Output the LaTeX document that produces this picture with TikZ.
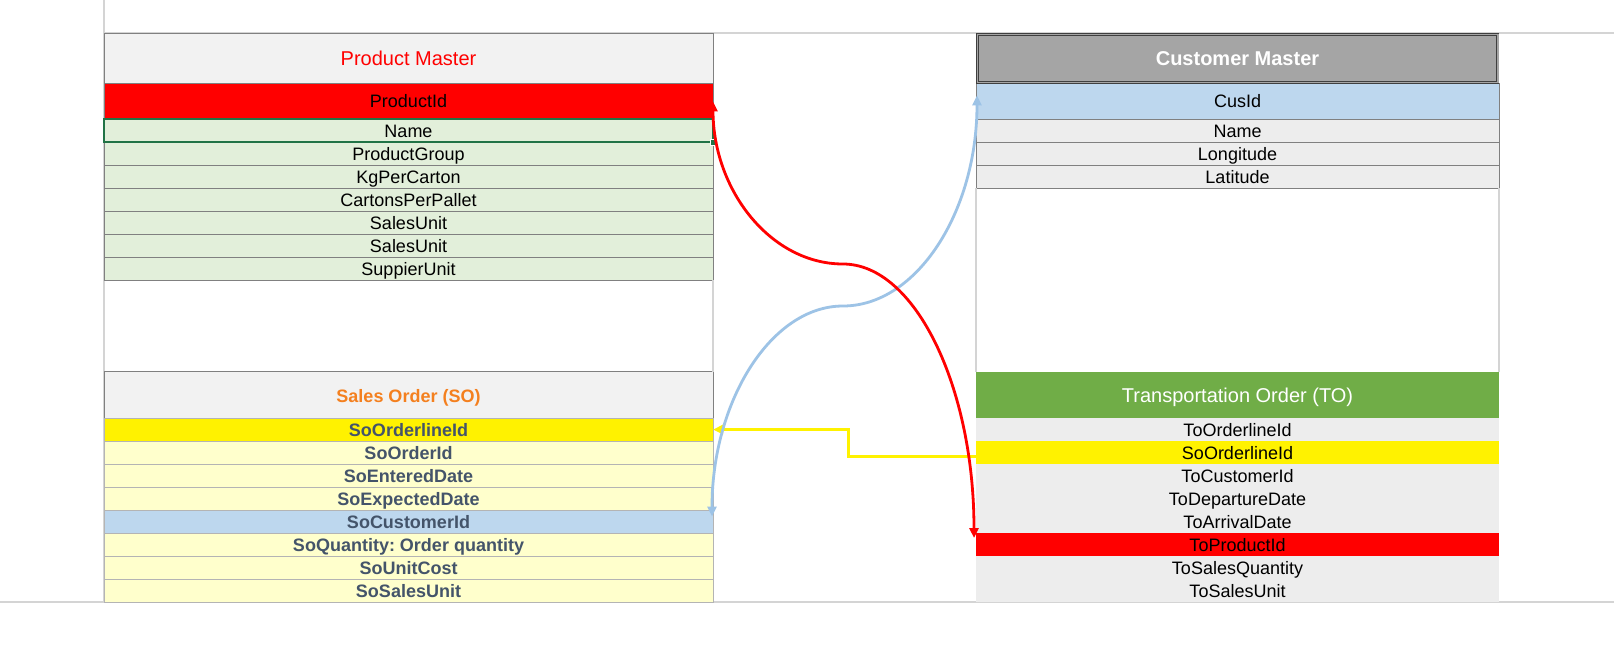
\documentclass[tikz,border=0pt]{standalone}
\usepackage{fontspec}
\setmainfont{Liberation Sans}
\usepackage{tikz}
\usetikzlibrary{shapes.geometric, arrows.meta, positioning}
\definecolor{pmgreen}{HTML}{E2EFDA}
\definecolor{cellgray}{HTML}{F2F2F2}
\definecolor{linegray}{HTML}{808080}
\definecolor{solines}{HTML}{B4B4B4}
\definecolor{gridgray}{HTML}{D4D4D4}
\definecolor{soyellow}{HTML}{FFFFCC}
\definecolor{keyblue}{HTML}{BDD7EE}
\definecolor{sotext}{HTML}{44546A}
\definecolor{soorange}{HTML}{F4801F}
\definecolor{cmgray}{HTML}{A5A5A5}
\definecolor{cmborder}{HTML}{3F3F3F}
\definecolor{togray}{HTML}{EDEDED}
\definecolor{togreen}{HTML}{70AD47}
\definecolor{selgreen}{HTML}{217346}
\definecolor{linkblue}{HTML}{9DC3E6}
\newcommand{\bodyfont}{\fontsize{18}{20}\selectfont}
\newcommand{\headfont}{\fontsize{20}{22}\selectfont}
\tikzstyle{cell} = [rectangle, inner sep=0pt, outer sep=0pt, minimum height=23pt, text centered, text height=15pt, text depth=2pt, font=\bodyfont]
\tikzstyle{pmcell} = [cell, minimum width=609pt, fill=pmgreen, draw=linegray, line width=1pt]
\tikzstyle{socell} = [cell, minimum width=609pt, fill=soyellow, draw=solines, line width=1pt, text=sotext, font=\bodyfont\bfseries]
\tikzstyle{cmcell} = [cell, minimum width=523pt, fill=togray, draw=linegray, line width=1pt]
\tikzstyle{tocell} = [cell, minimum width=523pt, fill=togray]
\tikzstyle{keycell} = [minimum height=36pt]
\tikzstyle{tablehead} = [rectangle, inner sep=0pt, outer sep=0pt, minimum height=50.4pt, text centered, text height=14.5pt, text depth=0pt, font=\headfont]
\tikzstyle{orderhead} = [tablehead, minimum height=46.4pt, text height=16pt]
\tikzstyle{gridline} = [gridgray, line width=1.3pt]
\tikzstyle{fklink} = [line width=2.8pt, {Triangle[length=10pt,width=9pt]}-{Triangle[length=10pt,width=9pt]}]
\tikzstyle{fkelbow} = [line width=3pt, -{Triangle[length=10pt,width=9pt]}]
\begin{document}
\frenchspacing
\begin{tikzpicture}[x=1pt, y=-1pt, node distance=23pt]
	\fill [white] (0,0) rectangle (1614,654);
	\useasboundingbox (0,0) rectangle (1614,654);
	\draw [gridline] (104,0) -- (104,602);
	\draw [gridline] (104,33) -- (1614,33);
	\draw [gridline] (0,602) -- (1614,602);

	\node (hdrProduct) [tablehead, minimum width=609pt, fill=cellgray, draw=linegray, line width=1pt, text=red] at (408.5,58.2) {Product Master};
	\node (rowProductId) [pmcell, keycell, fill=red, below of=hdrProduct, yshift=-20.2pt] {ProductId};
	\node (rowPmName) [pmcell, below of=rowProductId, yshift=-6.5pt] {Name};
	\node (rowProductGroup) [pmcell, below of=rowPmName] {ProductGroup};
	\node (rowKgPerCarton) [pmcell, below of=rowProductGroup] {KgPerCarton};
	\node (rowCartonsPerPallet) [pmcell, below of=rowKgPerCarton] {CartonsPerPallet};
	\node (rowSalesUnitA) [pmcell, below of=rowCartonsPerPallet] {SalesUnit};
	\node (rowSalesUnitB) [pmcell, below of=rowSalesUnitA] {SalesUnit};
	\node (rowSuppierUnit) [pmcell, below of=rowSalesUnitB] {SuppierUnit};

	\node (hdrSales) [orderhead, minimum width=609pt, fill=cellgray, draw=linegray, line width=1pt, text=soorange, font=\bodyfont\bfseries] at (408.5,394.8) {Sales Order (SO)};
	\node (rowSoOrderlineId) [socell, fill=yellow, below of=hdrSales, yshift=-11.7pt] {SoOrderlineId};
	\node (rowSoOrderId) [socell, below of=rowSoOrderlineId] {SoOrderId};
	\node (rowSoEnteredDate) [socell, below of=rowSoOrderId] {SoEnteredDate};
	\node (rowSoExpectedDate) [socell, below of=rowSoEnteredDate] {SoExpectedDate};
	\node (rowSoCustomerId) [socell, fill=keyblue, below of=rowSoExpectedDate] {SoCustomerId};
	\node (rowSoQuantity) [socell, below of=rowSoCustomerId] {SoQuantity: Order quantity};
	\node (rowSoUnitCost) [socell, below of=rowSoQuantity] {SoUnitCost};
	\node (rowSoSalesUnit) [socell, below of=rowSoUnitCost] {SoSalesUnit};

	\node (hdrCustomer) [tablehead, minimum width=523pt, fill=cmgray, text=white, font=\headfont\bfseries] at (1237.5,58.2) {Customer Master};
	\node (rowCusId) [cmcell, keycell, fill=keyblue, below of=hdrCustomer, yshift=-20.2pt] {CusId};
	\node (rowCmName) [cmcell, below of=rowCusId, yshift=-6.5pt] {Name};
	\node (rowLongitude) [cmcell, below of=rowCmName] {Longitude};
	\node (rowLatitude) [cmcell, below of=rowLongitude] {Latitude};
	\draw [cmborder, double=cmgray, double distance=1.4pt, line width=0.9pt] ([xshift=1.2pt, yshift=-1.2pt]hdrCustomer.north west) rectangle ([xshift=-1.2pt, yshift=1.2pt]hdrCustomer.south east);

	\node (hdrTransport) [orderhead, minimum width=523pt, fill=togreen, text=white] at (1237.5,394.8) {Transportation Order (TO)};
	\node (rowToOrderlineId) [tocell, below of=hdrTransport, yshift=-11.7pt] {ToOrderlineId};
	\node (rowToSoOrderlineId) [tocell, fill=yellow, below of=rowToOrderlineId] {SoOrderlineId};
	\node (rowToCustomerId) [tocell, below of=rowToSoOrderlineId] {ToCustomerId};
	\node (rowToDepartureDate) [tocell, below of=rowToCustomerId] {ToDepartureDate};
	\node (rowToArrivalDate) [tocell, below of=rowToDepartureDate] {ToArrivalDate};
	\node (rowToProductId) [tocell, fill=red, below of=rowToArrivalDate] {ToProductId};
	\node (rowToSalesQuantity) [tocell, below of=rowToProductId] {ToSalesQuantity};
	\node (rowToSalesUnit) [tocell, below of=rowToSalesQuantity] {ToSalesUnit};

	\draw [gridline] (rowSuppierUnit.south east) -- (hdrSales.north east);
	\draw [gridline] (rowLatitude.south west) -- (hdrTransport.north west);
	\draw [gridline] (rowLatitude.south east) -- (hdrTransport.north east);

	\draw [selgreen, line width=2pt] (rowPmName.north west) rectangle (rowPmName.south east);
	\node (selHandle) [rectangle, fill=selgreen, draw=white, line width=0.8pt, minimum size=6pt, inner sep=0pt] at (rowPmName.south east) {};

	\coordinate (redBend) at (843,264);
	\coordinate (blueBend) at (843,306);
	\draw [fkelbow, yellow] ([yshift=-3.5pt]rowToSoOrderlineId.west) -- ++(-128,0) |- (rowSoOrderlineId.east);
	\draw [fklink, linkblue] ([xshift=-1pt, yshift=5pt]rowSoCustomerId.east) .. controls +(0,-115) and +(-72,0) .. (blueBend) .. controls +(74,0) and +(0,116) .. ([xshift=1pt, yshift=6pt]rowCusId.west);
	\draw [fklink, red] (rowProductId.east) .. controls +(0,89) and +(-72,0) .. (redBend) .. controls +(72,0) and +(0,-151) .. ([xshift=-2pt, yshift=-5pt]rowToProductId.north west);
\end{tikzpicture}
\end{document}
